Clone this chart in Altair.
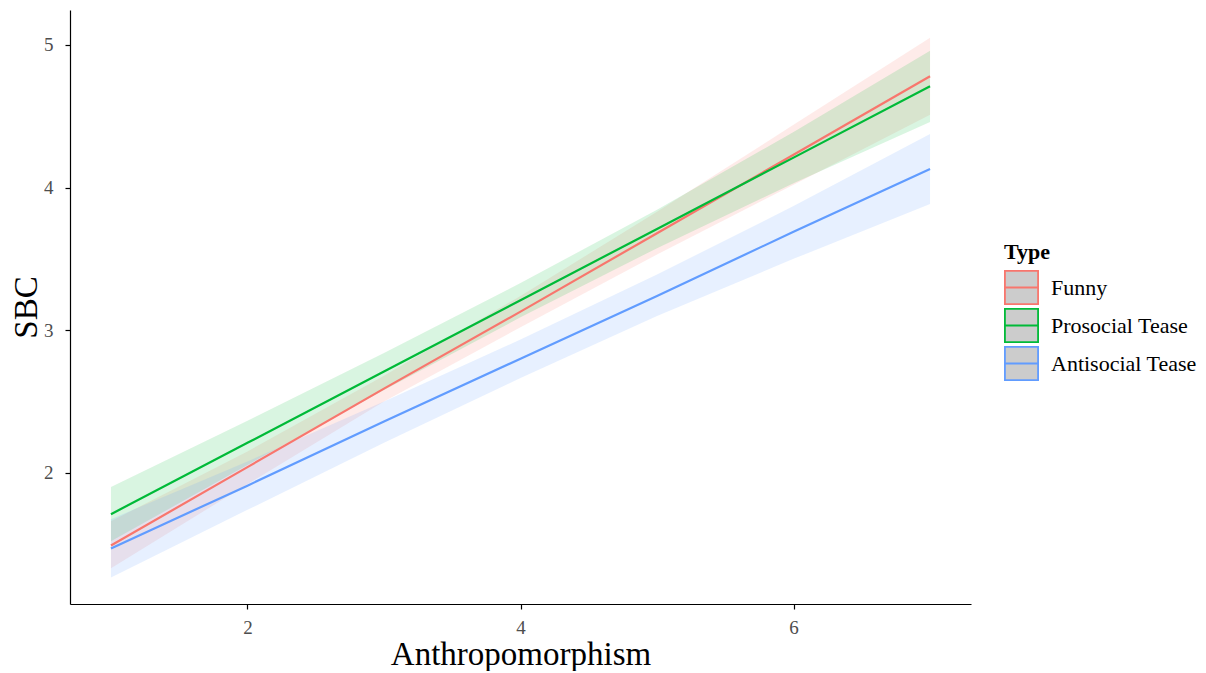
import altair as alt
import pandas as pd

types = ["Funny", "Prosocial Tease", "Antisocial Tease"]
colors = ["#F8766D", "#00BA38", "#619CFF"]
x_vals = [1, 2, 3, 4, 5, 6, 7]

funny_fit = [1.49, 2.04, 2.59, 3.13, 3.68, 4.23, 4.78]
funny_lo = [1.33, 1.92, 2.50, 3.02, 3.53, 4.02, 4.51]
funny_hi = [1.66, 2.15, 2.68, 3.24, 3.83, 4.44, 5.05]

pro_fit = [1.71, 2.21, 2.71, 3.21, 3.71, 4.21, 4.71]
pro_lo = [1.52, 2.055, 2.58, 3.09, 3.575, 4.03, 4.46]
pro_hi = [1.90, 2.365, 2.84, 3.33, 3.845, 4.39, 4.96]

anti_fit = [1.47, 1.91, 2.36, 2.80, 3.24, 3.69, 4.13]
anti_lo = [1.265, 1.74, 2.21, 2.665, 3.10, 3.50, 3.885]
anti_hi = [1.675, 2.08, 2.50, 2.935, 3.39, 3.87, 4.375]

rows = []
for t, fit, lo, hi in [
    ("Funny", funny_fit, funny_lo, funny_hi),
    ("Prosocial Tease", pro_fit, pro_lo, pro_hi),
    ("Antisocial Tease", anti_fit, anti_lo, anti_hi),
]:
    for xv, f, l, h in zip(x_vals, fit, lo, hi):
        rows.append({"x": xv, "Type": t, "fit": f, "lo": l, "hi": h})
df = pd.DataFrame(rows)

xs = alt.Scale(domain=[0.7, 7.3], nice=False, zero=False)
ys = alt.Scale(domain=[1.08, 5.245], nice=False, zero=False)

base = alt.Chart(df)

bands = []
for t, c in zip(types, colors):
    bands.append(
        base.transform_filter(alt.datum.Type == t)
        .mark_area(opacity=0.15, color=c)
        .encode(
            x=alt.X("x:Q", scale=xs),
            y=alt.Y("lo:Q", scale=ys),
            y2="hi:Q",
        )
    )

line = base.mark_line(strokeWidth=2.2).encode(
    x=alt.X(
        "x:Q",
        scale=xs,
        title="Anthropomorphism",
        axis=alt.Axis(values=[2, 4, 6], format="d"),
    ),
    y=alt.Y(
        "fit:Q",
        scale=ys,
        title="SBC",
        axis=alt.Axis(values=[2, 3, 4, 5], format="d"),
    ),
    color=alt.Color(
        "Type:N",
        scale=alt.Scale(domain=types, range=colors),
        title="Type",
        legend=alt.Legend(
            orient="none",
            legendX=934,
            legendY=232,
            symbolType="M-1,-1H1V1H-1Z M-1,0H1",
            symbolSize=1100,
            symbolFillColor="#cccccc",
            symbolStrokeWidth=1.8,
            labelFontSize=22,
            titleFontSize=22,
            titleFontWeight="bold",
            labelFont="Liberation Serif",
            titleFont="Liberation Serif",
            labelColor="#000000",
            titleColor="#000000",
            labelOffset=12,
            rowPadding=-6,
            titlePadding=6,
        ),
    ),
)

chart = (
    alt.layer(*bands, line)
    .properties(width=901, height=594, padding={"left": 2, "top": 2, "right": 0, "bottom": 0})
    .configure_view(stroke=None)
    .configure_axis(
        grid=False,
        domainColor="#000000",
        domainWidth=1.2,
        tickColor="#000000",
        tickSize=5,
        tickWidth=1.2,
        labelFont="Liberation Serif",
        labelFontSize=19,
        labelColor="#4D4D4D",
        titleFont="Liberation Serif",
        titleFontSize=33,
        titleFontWeight="normal",
        titleColor="#000000",
    )
    .configure_axisX(titlePadding=1, labelPadding=9)
    .configure_axisY(titlePadding=0, labelPadding=12, labelAngle=0)
)

chart.save("out.html", embed_options={"renderer": "svg", "actions": False})
